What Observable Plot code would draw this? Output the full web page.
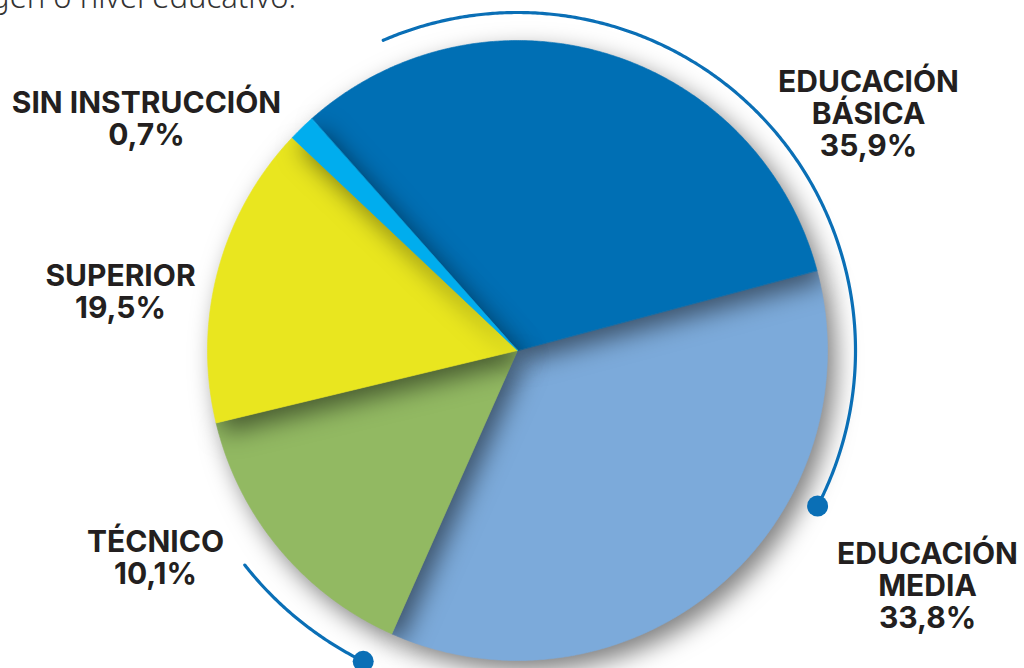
<!DOCTYPE html>
<html>
<head>
<meta charset="utf-8">
<script src="https://cdn.jsdelivr.net/npm/d3@7"></script>
<script src="https://cdn.jsdelivr.net/npm/@observablehq/plot@0.6"></script>
<style>
  html, body { margin: 0; padding: 0; background: #ffffff; }
  #wrap { position: relative; width: 1024px; height: 668px; overflow: hidden; }
  #sub { position: absolute; left: 0; top: -19px; width: 296px; height: 40px; line-height: 31px;
         overflow: hidden; display: flex; justify-content: flex-end; white-space: nowrap;
         font-family: "Noto Sans", sans-serif; font-weight: 300; font-size: 31px; color: #333333; z-index: 2; }
  #chart { position: absolute; left: 0; top: 0; }
</style>
</head>
<body>
<div id="wrap">
  <div id="sub">…origen o nivel educativo.</div>
  <div id="chart"></div>
</div>
<script>
// ---- data ----
const categories = ["EDUCACIÓN BÁSICA", "EDUCACIÓN MEDIA", "TÉCNICO", "SUPERIOR", "SIN INSTRUCCIÓN"];
const labelNames = ["EDUCACIÓN\nBÁSICA", "EDUCACIÓN\nMEDIA", "TÉCNICO", "SUPERIOR", "SIN INSTRUCCIÓN"];
const percentLabels = ["35,9%", "33,8%", "10,1%", "19,5%", "0,7%"];
// slice sizes as drawn in the picture (percent of the full circle)
const drawnShares = [32.4, 35.8, 14.6, 15.8, 1.4];
const colors = ["#006fb4", "#7caada", "#92b962", "#e9e61f", "#00adee"];

// ---- layout ----
const R = 310;                 // pie radius (px)
const startAngle = -41.6;      // degrees clockwise from north where the first slice starts
const drawOrder = [1, 0, 2, 3, 4];
// label anchors (px offsets from pie centre, y up)
const labelAt = [[351, 281], [410, -191], [-362, -179], [-397, 87], [-371, 260]];
// decorative rings: [fromAngle, toAngle, radius]
const rings = [[336.6, 477.4, 338], [231.8, 206.4, 347]];

function arcPoints(a0, a1, r) {
  const n = Math.max(2, Math.ceil(Math.abs(a1 - a0) / 0.4));
  return d3.range(n + 1).map(k => {
    const a = (a0 + (a1 - a0) * k / n) * Math.PI / 180;
    return {x: r * Math.sin(a), y: r * Math.cos(a)};
  });
}

const sliceRows = [];
let cum = 0;
categories.forEach((c, i) => {
  const a0 = startAngle + cum * 3.6;
  const a1 = a0 + drawnShares[i] * 3.6;
  cum += drawnShares[i];
  [{x: 0, y: 0}, ...arcPoints(a0, a1, R)].forEach(p => sliceRows.push({category: c, x: p.x, y: p.y}));
});

const labels = categories.map((c, i) => ({
  category: c, text: labelNames[i] + "\n" + percentLabels[i], x: labelAt[i][0], y: labelAt[i][1]
}));

const ringLines = rings.map(([a0, a1, r]) => arcPoints(a0, a1, r));
const ringEnds = ringLines.map(pts => pts[pts.length - 1]);

const marks = [];
drawOrder.forEach(i => {
  const c = categories[i];
  marks.push(Plot.line(sliceRows.filter(d => d.category === c), {
    x: "x", y: "y", z: "category", fill: "category", stroke: "category", strokeWidth: 0.6,
    curve: "linear-closed"
  }));
});
ringLines.forEach(pts => marks.push(Plot.line(pts, {x: "x", y: "y", stroke: "#0a6fb6", strokeWidth: 3.2})));
marks.push(Plot.dot(ringEnds, {x: "x", y: "y", r: 10.5, fill: "#0a6fb6"}));
marks.push(Plot.text(labels, {
  x: "x", y: "y", text: "text", textAnchor: "middle", lineAnchor: "top", lineHeight: 1.07,
  fontSize: 30, fontWeight: 700, fontFamily: "Inter, 'Open Sans', sans-serif", fill: "#231f20"
}));

const chart = Plot.plot({
  width: 1024, height: 668,
  margin: 0,
  x: {domain: [-517, 507], axis: null},
  y: {domain: [-318, 350], axis: null},
  color: {domain: categories, range: colors},
  marks
});
document.getElementById("chart").appendChild(chart);

d3.select(chart).selectAll('g[aria-label="line"]').filter((d, i) => i < 5)
  .style("filter", "drop-shadow(8px 10px 12px rgba(0,0,0,0.5))");
</script>
</body>
</html>
